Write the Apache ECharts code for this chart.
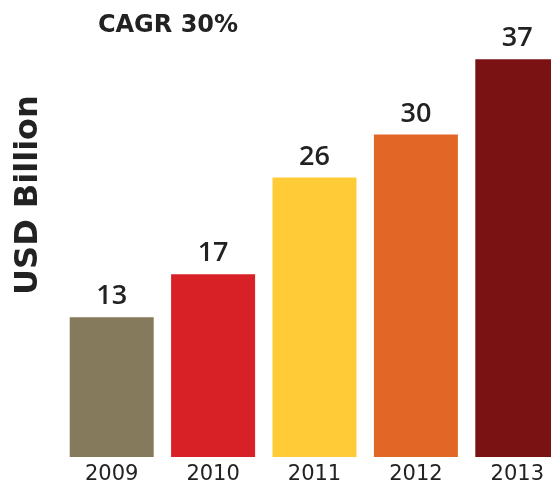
<!DOCTYPE html>
<html><head><meta charset="utf-8">
<script src="https://cdn.jsdelivr.net/npm/echarts@6/dist/echarts.min.js"></script>
<style>html,body{margin:0;padding:0;background:#fff}#c{width:551px;height:484px}</style>
</head><body><div id="c"></div>
<script>
const years = ['2009','2010','2011','2012','2013'];
const values = [13, 17, 26, 30, 37];
const barColors = ['#857a5c','#d82027','#ffcb37','#e26726','#7a1214'];
const titleText = 'CAGR 30%';
const axisName = 'USD Billion';

const chart = echarts.init(document.getElementById('c'));
chart.setOption({
  animation: false,
  title: {text: titleText, left: 163, top: 9, textAlign: 'center',
    textStyle: {fontFamily: 'DejaVu Sans', fontSize: 24, fontWeight: 'bold', color: '#222'}},
  graphic: [{type: 'text', x: 29, y: 195, rotation: Math.PI/2,
    style: {text: axisName, x: 0, y: 0, textAlign: 'center', textVerticalAlign: 'middle',
      fontFamily: 'DejaVu Sans', fontSize: 32, fontWeight: 'bold', fill: '#222'}}],
  grid: {left: 61, width: 507, top: 27, bottom: 27, containLabel: false, outerBoundsMode: 'none'},
  xAxis: {type: 'category', data: years,
    axisLine: {show: false}, axisTick: {show: false},
    axisLabel: {fontFamily: 'DejaVu Sans', fontSize: 21, color: '#222', margin: 7}},
  yAxis: {type: 'value', min: 0, max: 40, show: false, splitLine: {show: false}},
  series: [{type: 'bar', barWidth: 84,
    data: values.map((v, i) => ({value: v, itemStyle: {color: barColors[i]}})),
    label: {show: true, position: 'top', distance: 7,
      fontFamily: 'Open Sans', fontSize: 27, fontWeight: 600, color: '#222'}}]
});
</script></body></html>
